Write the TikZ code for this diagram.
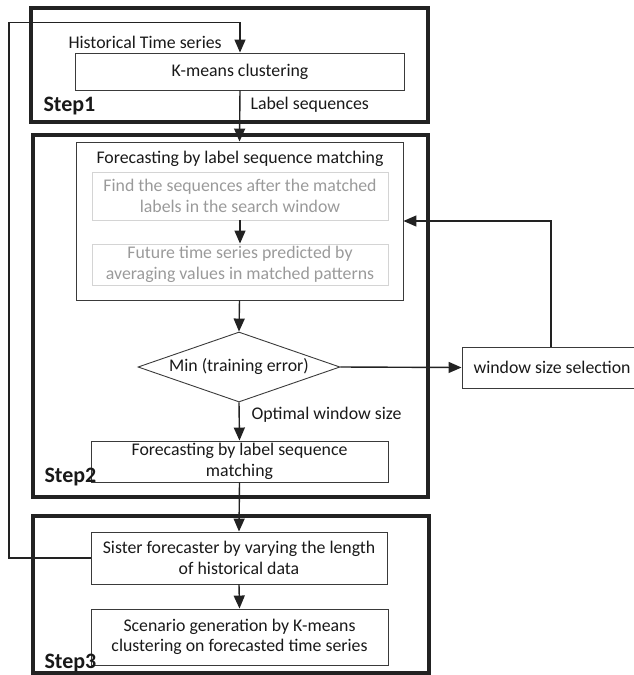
\documentclass[tikz,border=0pt]{standalone}
\usepackage{fontspec}
\setmainfont{Carlito}
\usetikzlibrary{arrows.meta,shapes.geometric}
\definecolor{edge}{HTML}{3A3A3A}
\definecolor{frame}{HTML}{222222}
\definecolor{faint}{HTML}{D4D4D4}
\definecolor{fainttext}{HTML}{9A9A9A}
\begin{document}
\begin{tikzpicture}[x=1pt,y=-1pt,
  every node/.style={font=\fontsize{17.8}{20.5}\selectfont, text=black!90},
  box/.style={draw=edge, line width=0.9pt, inner sep=0pt, align=center},
  lightbox/.style={draw=faint, line width=0.9pt, inner sep=0pt, align=center, text=fainttext},
  stepframe/.style={draw=frame, line width=3.6pt},
  steplabel/.style={anchor=west, font=\fontsize{22}{24}\selectfont\bfseries, text=black!90},
  note/.style={anchor=west},
  arr/.style={draw=frame, line width=1.4pt, -{Triangle[length=13pt,width=11pt]}},
  decision/.style={diamond, draw=edge, line width=0.9pt, inner sep=0pt, aspect=2.9,
    minimum width=202pt, minimum height=70pt}
]
\useasboundingbox (0,0) rectangle (633,675);

% step frames
\draw[stepframe] (31,8) rectangle (428,122);
\draw[stepframe] (33,135) rectangle (428,497);
\draw[stepframe] (33,516) rectangle (429,673);

% step 1
\node[box, minimum width=329pt, minimum height=37pt] (kmeans) at (240,71.5) {K-means clustering};
\node[note] (histlbl) at (65,42) {Historical Time series};
\node[note] (seqlbl) at (247,105) {Label sequences};
\node[steplabel] (s1) at (40,106) {Step1};

% step 2
\node[box, minimum width=327pt, minimum height=158pt] (fouter) at (239.5,221) {};
\node (ftitle) at (240,159) {Forecasting by label sequence matching};
\node[lightbox, minimum width=296pt, minimum height=48pt] (find) at (240,196)
  {Find the sequences after the matched\\labels in the search window};
\node[lightbox, minimum width=296pt, minimum height=41pt] (future) at (240,264.5)
  {Future time series predicted by\\averaging values in matched patterns};
\node[decision] (minerr) at (239,367) {Min (training error)};
\node[box, minimum width=178pt, minimum height=41pt] (win) at (551,367.5) {};
\node[note] (winlbl) at (470,367.5) {window size selection};
\node[note] (optlbl) at (248,415) {Optimal window size};
\node[box, minimum width=297pt, minimum height=41pt] (final) at (239.5,461.5)
  {Forecasting by label sequence\\matching};
\node[steplabel] (s2) at (41,477) {Step2};

% step 3
\node[box, minimum width=296pt, minimum height=52pt] (sister) at (239,558)
  {Sister forecaster by varying the length\\of historical data};
\node[box, minimum width=297pt, minimum height=56pt] (scen) at (239.5,637)
  {Scenario generation by K-means\\clustering on forecasted time series};
\node[steplabel] (s3) at (41,663) {Step3};

% connectors
\coordinate (fbcorner) at (9,22.7);
\coordinate (wincorner) at (551,221);
\draw[arr] (sister.west) -| (fbcorner) -| (kmeans.north);
\draw[arr] (kmeans.south) -- (fouter.north);
\draw[arr] (find.south) -- (future.north);
\draw[arr] (fouter.south) -- (minerr.north);
\draw[arr] (minerr.east) -- (win.west);
\draw[arr] (win.north) -- (wincorner) -- (wincorner -| fouter.east);
\draw[arr] (minerr.south) -- (final.north);
\draw[arr] (final.south) -- (sister.north);
\draw[arr] (sister.south) -- (scen.north);
\end{tikzpicture}
\end{document}
